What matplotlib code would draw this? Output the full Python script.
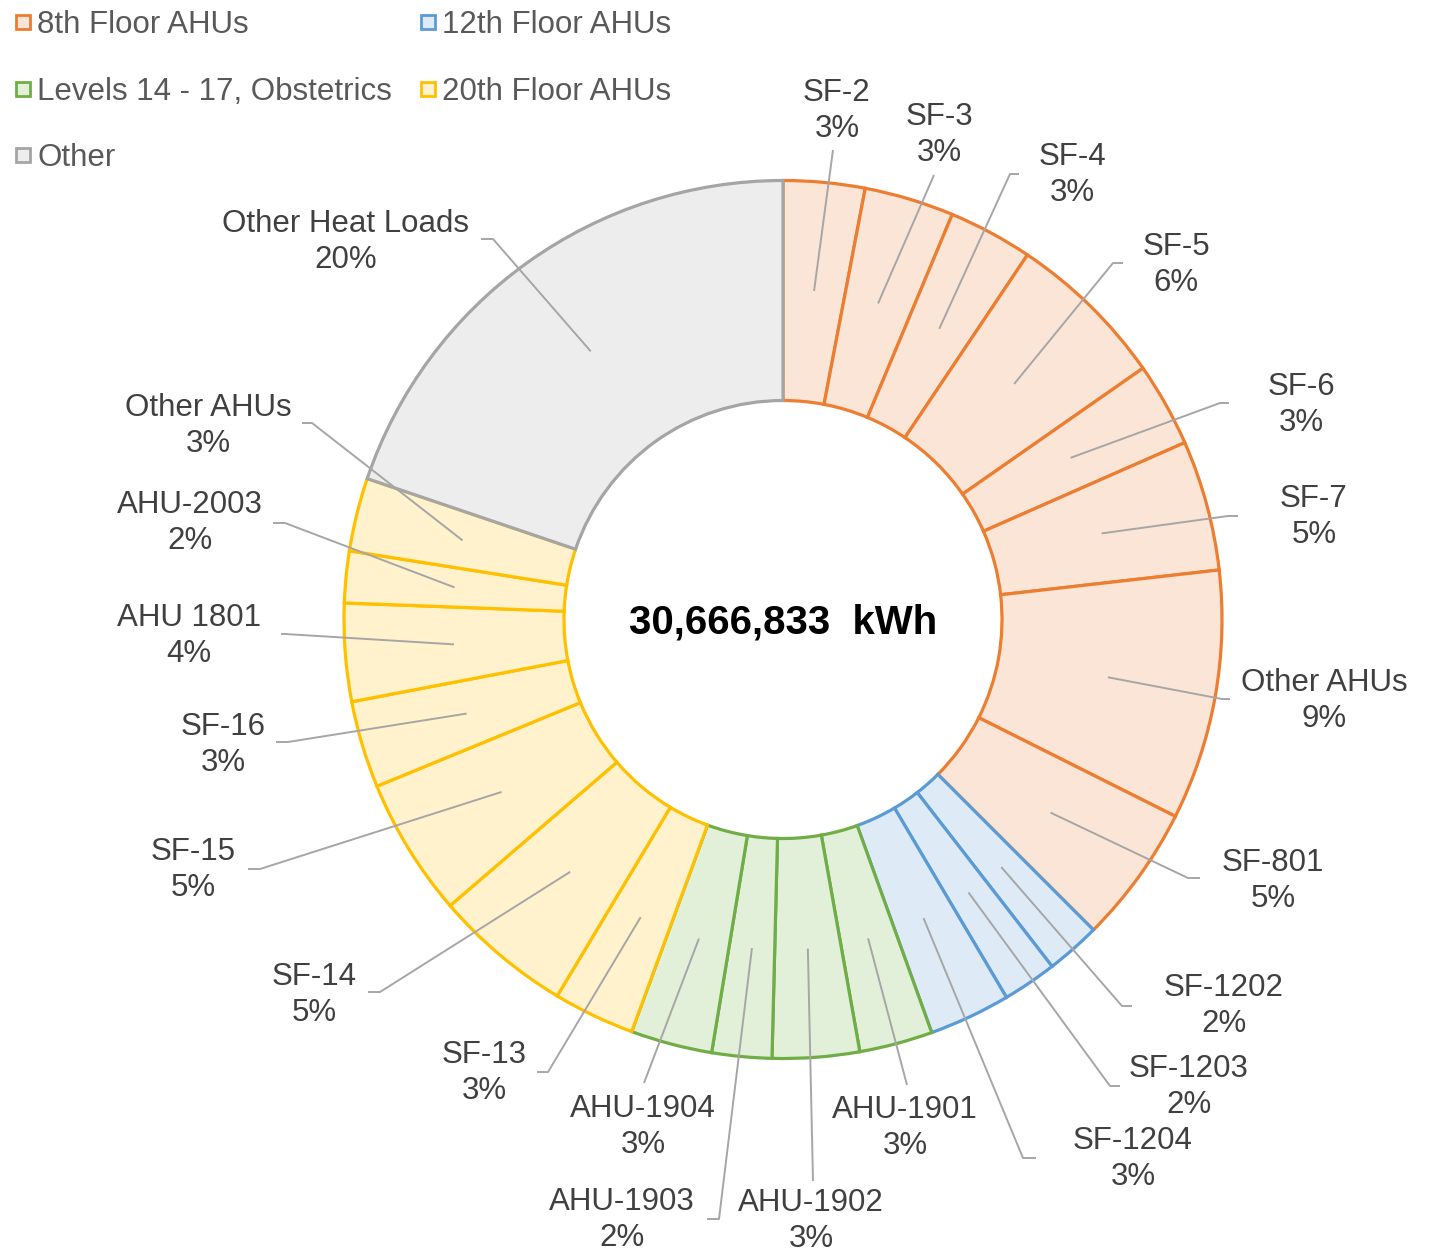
import matplotlib
matplotlib.use("Agg")
import matplotlib.pyplot as plt
from matplotlib.lines import Line2D
import numpy as np

plt.rcParams["font.family"] = ["Liberation Sans", "DejaVu Sans"]

# ---------------- data ----------------
groups = ["8th Floor AHUs", "12th Floor AHUs", "Levels 14 - 17, Obstetrics",
          "20th Floor AHUs", "Other"]
names = ["SF-2", "SF-3", "SF-4", "SF-5", "SF-6", "SF-7", "Other AHUs", "SF-801",
         "SF-1202", "SF-1203", "SF-1204",
         "AHU-1901", "AHU-1902", "AHU-1903", "AHU-1904",
         "SF-13", "SF-14", "SF-15", "SF-16", "AHU 1801", "AHU-2003", "Other AHUs",
         "Other Heat Loads"]
shares = [3.0, 3.3, 3.1, 5.9, 3.1, 4.8, 9.2, 5.1,
          2.0, 2.0, 3.0,
          2.7, 3.2, 2.2, 3.0,
          3.0, 5.1, 5.1, 3.2, 3.6, 1.9, 2.7,
          19.8]
group_of = [0] * 8 + [1] * 3 + [2] * 4 + [3] * 7 + [4]
total_kwh = 30666833

# ---------------- styles / layout ----------------
edge_colors = ["#ED7D31", "#5B9BD5", "#70AD47", "#FFC000", "#A5A5A5"]
fill_colors = ["#FBE5D6", "#DEEBF7", "#E2F0D9", "#FFF2CC", "#EDEDED"]

W, H = 1429, 1255
# label centres (pixel coords from top-left)
label_pos = [(837, 111), (939, 135), (1072, 175), (1176, 265), (1301, 405),
             (1314, 517), (1324, 701), (1273, 881), (1224, 1006), (1189, 1087),
             (1133, 1159), (905, 1128), (811, 1221), (622, 1220), (643, 1127),
             (484, 1073), (314, 995), (193, 870), (223, 745), (189, 636),
             (190, 523), (208, 426), (346, 242)]
# leader elbow points and horizontal hook length
leader_elbow = [(833, 150), (934, 175), (1010, 174), (1113, 263), (1220, 403),
                (1228, 516), (1222, 699), (1188, 878), (1122, 1006), (1110, 1086),
                (1023, 1158), (907, 1085), (813, 1181), (719, 1219), (644, 1083),
                (548, 1072), (380, 992), (260, 869), (288, 742), (285, 634),
                (285, 523), (312, 423), (493, 239)]
leader_hook = [0, 0, 9, 10, 9, 10, 8, 12, 10, 10, 13, 0, 0, -12, 0,
               -11, -12, -12, -12, -4, -12, -10, -12]

fig = plt.figure(figsize=(W / 100, H / 100), dpi=100)
ax = fig.add_axes([0, 0, 1, 1])

cx, cy = 783, H - 619.5
R_out, ring_w = 439, 220
wedges, _ = ax.pie(shares, colors=[fill_colors[g] for g in group_of],
                   startangle=90, counterclock=False, radius=R_out,
                   center=(cx, cy),
                   wedgeprops=dict(width=ring_w, linewidth=2.3))
for w, g in zip(wedges, group_of):
    w.set_edgecolor(edge_colors[g])

ax.set_xlim(0, W)
ax.set_ylim(0, H)
ax.set_aspect("equal")
ax.axis("off")

# labels with leader lines
tot = sum(shares)
cum = 0.0
for i, (nm, v) in enumerate(zip(names, shares)):
    mid = 90 - 360 * (cum + v / 2) / tot
    cum += v
    r0 = 330
    sx = cx + r0 * np.cos(np.radians(mid))
    sy = cy + r0 * np.sin(np.radians(mid))
    ex, ey = leader_elbow[i]
    xs = [sx, ex]
    ys = [sy, H - ey]
    if leader_hook[i]:
        xs.append(ex + leader_hook[i])
        ys.append(H - ey)
    ax.plot(xs, ys, color="#A6A6A6", lw=1.4, solid_capstyle="butt", zorder=3)
    lx, ly = label_pos[i]
    ax.text(lx, H - ly, f"{nm}\n{v / tot * 100:.0f}%", ha="center", va="center",
            fontsize=22.5, color="#404040", linespacing=1.25, zorder=4)

ax.text(cx, cy - 3, f"{total_kwh:,}  kWh", ha="center", va="center",
        fontsize=29, fontweight="bold", color="black", zorder=4)

# legend (column-major order to reproduce row layout)
order = [0, 2, 4, 1, 3]
handles = [Line2D([], [], marker="s", linestyle="none", markersize=10,
                  markerfacecolor=fill_colors[k], markeredgecolor=edge_colors[k],
                  markeredgewidth=2) for k in order]
leg = ax.legend(handles, [groups[k] for k in order], ncol=2, loc="upper left",
                bbox_to_anchor=(14 / W, 1 - 10 / H), bbox_transform=fig.transFigure,
                frameon=False, fontsize=22.5, labelcolor="#595959",
                handlelength=0.6, handletextpad=0.15, columnspacing=0.85,
                labelspacing=1.17, borderpad=0, borderaxespad=0)

fig.savefig("out.png", dpi=100)
